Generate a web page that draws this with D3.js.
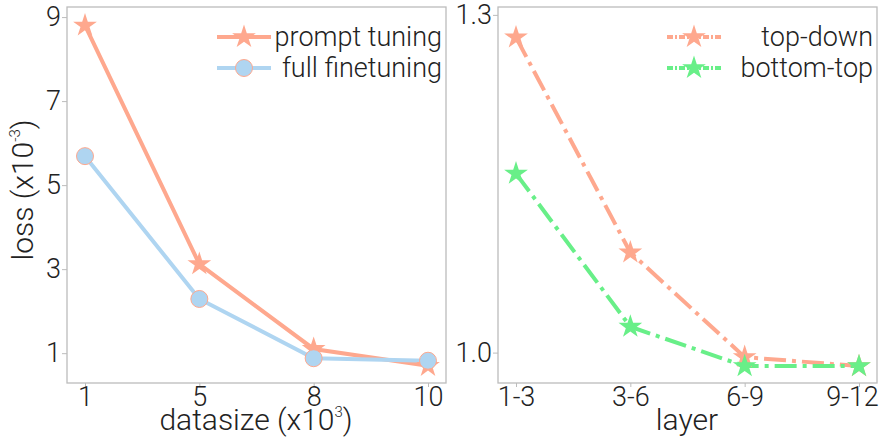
<!DOCTYPE html>
<html>
<head>
<meta charset="utf-8">
<script src="https://cdn.jsdelivr.net/npm/d3@7"></script>
<style>
  body { margin: 0; background: #fff; }
  svg { font-family: Roboto, "Liberation Sans", sans-serif; font-weight: 300; }
</style>
</head>
<body>
<div id="root"></div>
<script>
// values
var datasizeLabels = ["1", "5", "8", "10"];
var promptTuning = [8.8, 3.12, 1.1, 0.7];
var fullFinetuning = [5.69, 2.29, 0.88, 0.82];

var layerLabels = ["1-3", "3-6", "6-9", "9-12"];
var topDown = [1.28, 1.089, 0.996, 0.988];
var bottomTop = [1.159, 1.023, 0.988, 0.988];

var salmon = "#fea88e",
    blue = "#afd5f1",
    green = "#68ef88",
    spine = "#bcbcbc";

var width = 881, height = 440;

var svg = d3.select("#root")
    .append("svg")
    .attr("width", width)
    .attr("height", height);

var star = d3.symbol().type(d3.symbolStar).size(175);
var dashdot = "22,6,4,6";

// one panel = box + axes + lines
function panel(opts) {
    var x = d3.scalePoint()
        .domain(opts.labels)
        .range([opts.left + 18, opts.right - 18]);
    var y = d3.scaleLinear()
        .domain(opts.yDomain)
        .range([opts.bottom, opts.top]);

    var g = svg.append("g");

    g.append("rect")
        .attr("x", opts.left).attr("y", opts.top)
        .attr("width", opts.right - opts.left)
        .attr("height", opts.bottom - opts.top)
        .attr("fill", "none")
        .attr("stroke", spine)
        .attr("stroke-width", 1.3);

    var xa = g.append("g")
        .attr("transform", "translate(0," + opts.bottom + ")")
        .call(d3.axisBottom(x).tickSizeOuter(0).tickSize(4).tickPadding(0));
    var ya = g.append("g")
        .attr("transform", "translate(" + opts.left + ",0)")
        .call(d3.axisLeft(y).tickValues(opts.yTicks).tickFormat(opts.yFormat)
            .tickSizeOuter(0).tickSize(5).tickPadding(1));
    [xa, ya].forEach(function (a) {
        a.select(".domain").remove();
        a.selectAll("line").attr("stroke", spine);
        a.selectAll("text")
            .attr("fill", "#222")
            .style("font-size", "27px")
            .style("font-family", "Roboto, sans-serif")
            .style("font-weight", 300);
    });
    // keep the last label inside the page (as in the original)
    xa.selectAll(".tick:last-of-type text").attr("dx", opts.lastDx || 0);

    var line = d3.line()
        .x(function (d, i) { return x(opts.labels[i]); })
        .y(function (d) { return y(d); });

    opts.series.forEach(function (s) {
        g.append("path")
            .datum(s.values)
            .attr("d", line)
            .attr("fill", "none")
            .attr("stroke", s.color)
            .attr("stroke-width", 4)
            .attr("stroke-dasharray", s.dash || null);
    });
    opts.series.forEach(function (s) {
        g.selectAll(null)
            .data(s.values)
            .enter()
            .append("path")
            .attr("transform", function (d, i) {
                return "translate(" + x(opts.labels[i]) + "," + y(d) + ")";
            })
            .attr("d", s.marker === "circle"
                ? d3.symbol().type(d3.symbolCircle).size(Math.PI * 8.5 * 8.5)()
                : star())
            .attr("fill", s.color)
            .attr("stroke", s.edge || "none")
            .attr("stroke-width", 1);
    });

    // legend, text right aligned
    opts.series.forEach(function (s, i) {
        var ly = opts.top + 30 + i * 31;
        var lx0 = opts.legendX, lx1 = opts.legendX + 54;
        g.append("line")
            .attr("x1", lx0).attr("x2", lx1)
            .attr("y1", ly).attr("y2", ly)
            .attr("stroke", s.color)
            .attr("stroke-width", 4)
            .attr("stroke-dasharray", s.dash ? "6,2,2,2" : null);
        g.append("path")
            .attr("transform", "translate(" + (lx0 + 27) + "," + ly + ")")
            .attr("d", s.marker === "circle"
                ? d3.symbol().type(d3.symbolCircle).size(Math.PI * 8.5 * 8.5)()
                : star())
            .attr("fill", s.color)
            .attr("stroke", s.edge || "none")
            .attr("stroke-width", 1);
        g.append("text")
            .attr("x", opts.right - 4)
            .attr("y", ly + 9)
            .attr("text-anchor", "end")
            .attr("fill", "#222")
            .style("font-size", "27px")
            .text(s.name);
    });

    return g;
}

var p1 = panel({
    left: 67, right: 446, top: 7, bottom: 383,
    labels: datasizeLabels,
    yDomain: [0.29, 9.24],
    yTicks: [1, 3, 5, 7, 9],
    yFormat: d3.format("d"),
    legendX: 217,
    series: [
        { name: "full finetuning", values: fullFinetuning, color: blue, marker: "circle", edge: salmon },
        { name: "prompt tuning", values: promptTuning, color: salmon, marker: "star" }
    ].reverse()
});

var p2 = panel({
    left: 498, right: 877, top: 7, bottom: 383,
    labels: layerLabels,
    yDomain: [0.973, 1.307],
    yTicks: [1.0, 1.3],
    yFormat: d3.format(".1f"),
    legendX: 667,
    lastDx: -7,
    series: [
        { name: "top-down", values: topDown, color: salmon, marker: "star", dash: dashdot },
        { name: "bottom-top", values: bottomTop, color: green, marker: "star", dash: dashdot }
    ]
});

// axis titles
var t1 = svg.append("text")
    .attr("x", 256).attr("y", 430)
    .attr("text-anchor", "middle")
    .attr("fill", "#222")
    .style("font-size", "30px");
t1.append("tspan").text("datasize (x10");
t1.append("tspan").attr("dy", -13).style("font-size", "15px").text("3");
t1.append("tspan").attr("dy", 13).text(")");

svg.append("text")
    .attr("x", 687).attr("y", 430)
    .attr("text-anchor", "middle")
    .attr("fill", "#222")
    .style("font-size", "30px")
    .text("layer");

var t2 = svg.append("text")
    .attr("transform", "translate(33,190) rotate(-90)")
    .attr("text-anchor", "middle")
    .attr("fill", "#222")
    .style("font-size", "30px");
t2.append("tspan").text("loss (x10");
t2.append("tspan").attr("dy", -13).style("font-size", "15px").text("-3");
t2.append("tspan").attr("dy", 13).text(")");
</script>
</body>
</html>
